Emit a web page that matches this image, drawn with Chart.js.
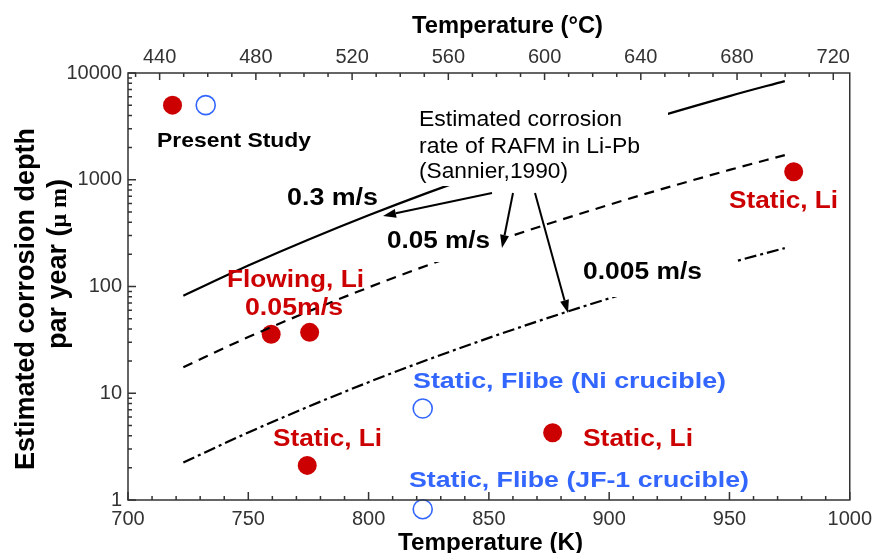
<!DOCTYPE html>
<html>
<head>
<meta charset="utf-8">
<script src="https://cdn.jsdelivr.net/npm/chart.js@4.4.1/dist/chart.umd.min.js"></script>
<style>
  html, body { margin: 0; padding: 0; background: #fff; }
  canvas { display: block; }
</style>
</head>
<body>
<canvas id="chart" width="879" height="553"></canvas>
<script>
// Sannier (1990) curves, read at these temperatures (K)
const curveTemps = [723, 750, 800, 850, 900, 950, 973];
const rate03 = [82, 157, 464, 1210, 2830, 6080, 8400];     // 0.3 m/s
const rate005 = [17.5, 33.6, 98, 252, 583, 1236, 1700];    // 0.05 m/s
const rate0005 = [2.24, 4.29, 12.7, 33, 77.4, 166, 229];   // 0.005 m/s

// measured points (um / year)
const liTemps = [759.5, 775.5, 774.5, 876.5, 976.7];
const liDepths = [35.7, 37.2, 2.11, 4.27, 1190];
const flibeTemps = [822.5, 822.5];
const flibeDepths = [7.2, 0.82];

// "Present Study" key markers
const keyTemps = [718.5, 732.3];
const keyDepths = [5000, 5000];

// tick labels
const kelvinLabels = [700, 750, 800, 850, 900, 950, 1000];
const celsiusLabels = [440, 480, 520, 560, 600, 640, 680, 720];
const depthLabels = [1, 10, 100, 1000, 10000];

const kelvinTicks = [];
for (let t = 700; t <= 1000; t += 10) kelvinTicks.push(t);
const celsiusTicks = [];
for (let c = 430; c <= 720; c += 10) celsiusTicks.push(c);
const depthTicks = [];
for (let d = 1; d < 10000; d *= 10) {
    for (let m = 1; m < 10; m++) depthTicks.push(d * m);
}
depthTicks.push(10000);

const FONT = '"Liberation Sans", Arial, sans-serif';
const RED = '#cc0000';
const BLUE = '#3366ff';

// text on the plot: text, left x, baseline y, width, font, colour
const notes = [
    ['Present Study', 157, 147, 154, 'bold 21px', '#000'],
    ['Estimated corrosion', 419, 126, 203, '22px', '#000'],
    ['rate of RAFM in Li-Pb', 419, 153, 221, '22px', '#000'],
    ['(Sannier,1990)', 419, 178, 149, '22px', '#000'],
    ['0.3 m/s', 287, 205, 91, 'bold 23px', '#000'],
    ['0.05 m/s', 387, 248, 103, 'bold 23px', '#000'],
    ['0.005 m/s', 583, 279, 119, 'bold 23px', '#000'],
    ['Flowing, Li', 227, 287, 137, 'bold 24px', RED],
    ['0.05m/s', 245, 315, 98, 'bold 24px', RED],
    ['Static, Li', 729, 208, 109, 'bold 24px', RED],
    ['Static, Li', 273, 446, 109, 'bold 24px', RED],
    ['Static, Li', 583, 446, 110, 'bold 24px', RED],
    ['Static, Flibe (Ni crucible)', 413, 388, 313, 'bold 22px', BLUE],
    ['Static, Flibe (JF-1 crucible)', 409, 487, 340, 'bold 22px', BLUE],
    ['Temperature (°C)', 412, 33, 191, 'bold 23px', '#000'],
    ['Temperature (K)', 398, 550, 185, 'bold 23px', '#000']
];

// white backgrounds under the curve labels
const boxes = [
    [433, 95, 668, 186],
    [383, 228, 512, 262],
    [578, 258, 735, 297]
];

// arrows from the annotation to the curves
const arrows = [
    [492, 193, 383, 216],
    [513, 193, 502, 248],
    [535, 193, 568, 313]
];

function points(xs, ys) {
    return xs.map((x, i) => ({ x: x, y: ys[i] }));
}

function drawNote(ctx, n) {
    ctx.font = n[4] + ' ' + FONT;
    ctx.fillStyle = n[5];
    const w = ctx.measureText(n[0]).width;
    ctx.save();
    ctx.translate(n[1], n[2]);
    ctx.scale(n[3] / w, 1);
    ctx.textAlign = 'left';
    ctx.textBaseline = 'alphabetic';
    ctx.fillText(n[0], 0, 0);
    ctx.restore();
}

function drawArrow(ctx, a) {
    const ang = Math.atan2(a[3] - a[1], a[2] - a[0]);
    const len = 13, half = 4.5;
    const bx = a[2] - len * Math.cos(ang), by = a[3] - len * Math.sin(ang);
    ctx.beginPath();
    ctx.moveTo(a[0], a[1]);
    ctx.lineTo(bx, by);
    ctx.stroke();
    ctx.beginPath();
    ctx.moveTo(a[2], a[3]);
    ctx.lineTo(bx + half * Math.sin(ang), by - half * Math.cos(ang));
    ctx.lineTo(bx - half * Math.sin(ang), by + half * Math.cos(ang));
    ctx.closePath();
    ctx.fill();
}

const decorations = {
    id: 'decorations',
    afterDatasetsDraw(chart) {
        const ctx = chart.ctx;
        const area = chart.chartArea;
        const sx = chart.scales.x, st = chart.scales.xTop, sy = chart.scales.y;
        ctx.save();

        ctx.fillStyle = '#fff';
        boxes.forEach(b => ctx.fillRect(b[0], b[1], b[2] - b[0], b[3] - b[1]));

        // frame and inward ticks
        ctx.strokeStyle = '#333';
        ctx.lineWidth = 1.5;
        ctx.strokeRect(area.left, area.top, area.right - area.left, area.bottom - area.top);
        ctx.beginPath();
        kelvinTicks.forEach(v => {
            const x = sx.getPixelForValue(v);
            ctx.moveTo(x, area.bottom);
            ctx.lineTo(x, area.bottom - (kelvinLabels.includes(v) ? 8 : 4));
        });
        celsiusTicks.forEach(v => {
            const x = st.getPixelForValue(v);
            ctx.moveTo(x, area.top);
            ctx.lineTo(x, area.top + (celsiusLabels.includes(v) ? 7 : 4));
        });
        depthTicks.forEach(v => {
            const y = sy.getPixelForValue(v);
            ctx.moveTo(area.left, y);
            ctx.lineTo(area.left + (depthLabels.includes(v) ? 8 : 4), y);
        });
        ctx.stroke();

        // annotation arrows
        ctx.strokeStyle = '#000';
        ctx.fillStyle = '#000';
        ctx.lineWidth = 2;
        arrows.forEach(a => drawArrow(ctx, a));

        notes.forEach(n => drawNote(ctx, n));

        // y axis title, two rotated lines
        ctx.fillStyle = '#000';
        ctx.textBaseline = 'alphabetic';
        ctx.save();
        ctx.translate(34, 299);
        ctx.rotate(-Math.PI / 2);
        ctx.font = 'bold 27px ' + FONT;
        ctx.textAlign = 'center';
        ctx.fillText('Estimated corrosion depth', 0, 0);
        ctx.restore();

        const parts = [
            ['par year (', 'bold 27px ' + FONT],
            ['\u03bc m', 'bold 24px "Liberation Serif", serif'],
            [')', 'bold 27px ' + FONT]
        ];
        let total = 0;
        parts.forEach(p => { ctx.font = p[1]; total += ctx.measureText(p[0]).width; });
        ctx.save();
        ctx.translate(66, 264);
        ctx.rotate(-Math.PI / 2);
        ctx.textAlign = 'left';
        let px = -total / 2;
        parts.forEach(p => {
            ctx.font = p[1];
            ctx.fillText(p[0], px, 0);
            px += ctx.measureText(p[0]).width;
        });
        ctx.restore();

        ctx.restore();
    }
};

const tickFont = { family: FONT, size: 20 };

new Chart(document.getElementById('chart'), {
    type: 'scatter',
    data: {
        datasets: [
            {
                type: 'line', label: '0.3 m/s', data: points(curveTemps, rate03),
                borderColor: '#000', borderWidth: 2.2, pointRadius: 0, fill: false,
                cubicInterpolationMode: 'monotone'
            },
            {
                type: 'line', label: '0.05 m/s', data: points(curveTemps, rate005),
                borderColor: '#000', borderWidth: 2.2, borderDash: [10, 7], pointRadius: 0, fill: false,
                cubicInterpolationMode: 'monotone'
            },
            {
                type: 'line', label: '0.005 m/s', data: points(curveTemps, rate0005),
                borderColor: '#000', borderWidth: 2.2, borderDash: [12, 4, 3, 4], pointRadius: 0, fill: false,
                cubicInterpolationMode: 'monotone'
            },
            {
                label: 'Li', data: points(liTemps, liDepths),
                pointRadius: 9.5, backgroundColor: RED, borderColor: RED, borderWidth: 0
            },
            {
                label: 'Flibe', data: points(flibeTemps, flibeDepths), clip: false,
                pointRadius: 9.5, backgroundColor: 'rgba(0,0,0,0)', borderColor: BLUE, borderWidth: 1.6
            },
            {
                label: 'Present Study', data: [{ x: keyTemps[0], y: keyDepths[0] }],
                pointRadius: 9.5, backgroundColor: RED, borderColor: RED, borderWidth: 0
            },
            {
                label: 'Present Study (Flibe)', data: [{ x: keyTemps[1], y: keyDepths[1] }],
                pointRadius: 9.5, backgroundColor: 'rgba(0,0,0,0)', borderColor: BLUE, borderWidth: 1.6
            }
        ]
    },
    options: {
        responsive: false,
        animation: false,
        devicePixelRatio: 1,
        layout: { padding: { left: 0, top: 0, right: 26, bottom: 0 } },
        plugins: {
            legend: { display: false },
            title: { display: false },
            tooltip: { enabled: false }
        },
        scales: {
            x: {
                type: 'linear', position: 'bottom', min: 700, max: 1000,
                afterBuildTicks: s => { s.ticks = kelvinTicks.map(v => ({ value: v })); },
                afterFit: s => { s.height = 53; },
                grid: { display: false, drawTicks: false, tickLength: 0 }, border: { display: false },
                ticks: {
                    autoSkip: false, maxRotation: 0, padding: 7, color: '#333', font: tickFont,
                    callback: v => kelvinLabels.includes(v) ? String(v) : ''
                }
            },
            xTop: {
                type: 'linear', axis: 'x', position: 'top', min: 426.85, max: 726.85,
                afterBuildTicks: s => { s.ticks = celsiusTicks.map(v => ({ value: v })); },
                afterFit: s => { s.height = 73; },
                grid: { display: false, drawTicks: false, tickLength: 0 }, border: { display: false },
                ticks: {
                    autoSkip: false, maxRotation: 0, padding: 4, color: '#333', font: tickFont,
                    callback: v => celsiusLabels.includes(v) ? String(v) : ''
                }
            },
            y: {
                type: 'logarithmic', position: 'left', min: 1, max: 10000,
                afterBuildTicks: s => { s.ticks = depthTicks.map(v => ({ value: v })); },
                afterFit: s => { s.width = 128; },
                grid: { display: false, drawTicks: false, tickLength: 0 }, border: { display: false },
                ticks: {
                    autoSkip: false, padding: 6, color: '#333', font: tickFont,
                    callback: v => depthLabels.includes(v) ? String(v) : ''
                }
            }
        }
    },
    plugins: [decorations]
});
</script>
</body>
</html>
